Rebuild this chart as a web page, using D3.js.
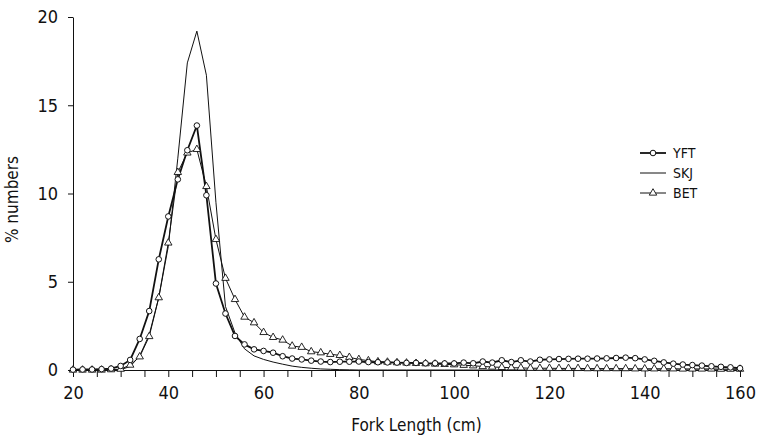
<!DOCTYPE html>
<html>
<head>
<meta charset="utf-8">
<script src="https://cdn.jsdelivr.net/npm/d3@7"></script>
<style>
  body { margin: 0; background: #fff; }
  svg text { font-family: "Liberation Sans Narrow", "DejaVu Sans Condensed", "Roboto Condensed", sans-serif; fill: #111; }
  .axis path, .axis line { stroke: #111; stroke-width: 1; }
</style>
</head>
<body>
<svg id="chart" width="769" height="437"></svg>
<script>
// fork length classes (cm)
const lengths = d3.range(20, 161, 2);

// % numbers per class
const yft = [0.02, 0.03, 0.03, 0.05, 0.08, 0.23, 0.57, 1.76, 3.34, 6.27,
  8.7, 10.8, 12.45, 13.85, 9.9, 4.9, 3.2, 1.93, 1.45, 1.17,
  1.08, 0.98, 0.78, 0.65, 0.6, 0.53, 0.48, 0.45, 0.47, 0.47,
  0.48, 0.45, 0.44, 0.43, 0.42, 0.4, 0.4, 0.38, 0.38, 0.37,
  0.37, 0.42, 0.38, 0.48, 0.42, 0.55, 0.45, 0.55, 0.48, 0.58,
  0.6, 0.62, 0.63, 0.64, 0.64, 0.65, 0.66, 0.68, 0.7, 0.67,
  0.6, 0.52, 0.43, 0.36, 0.31, 0.28, 0.25, 0.21, 0.18, 0.15, 0.1];

const skj = [0, 0, 0, 0, 0, 0.02, 0.2, 0.8, 2.0, 4.1,
  7.0, 12.0, 17.4, 19.2, 16.7, 9.5, 3.6, 2.1, 1.2, 0.8,
  0.6, 0.45, 0.33, 0.22, 0.15, 0.1, 0.06, 0.04, 0.02, 0.01,
  0, 0, 0, 0, 0, 0, 0, 0, 0, 0,
  0, 0, 0, 0, 0, 0, 0, 0, 0, 0,
  0, 0, 0, 0, 0, 0, 0, 0, 0, 0,
  0, 0, 0, 0, 0, 0, 0, 0, 0, 0, 0];

const bet = [0, 0, 0, 0, 0.02, 0.05, 0.28, 0.75, 1.9, 4.1,
  7.2, 11.2, 12.3, 12.5, 10.4, 7.4, 5.2, 4.0, 3.0, 2.68,
  2.13, 1.85, 1.7, 1.36, 1.29, 1.04, 0.98, 0.89, 0.83, 0.72,
  0.6, 0.53, 0.47, 0.45, 0.42, 0.4, 0.38, 0.36, 0.34, 0.32,
  0.3, 0.27, 0.24, 0.2, 0.17, 0.15, 0.13, 0.12, 0.1, 0.1,
  0.1, 0.09, 0.09, 0.09, 0.08, 0.08, 0.08, 0.08, 0.08, 0.07,
  0.07, 0.07, 0.07, 0.07, 0.06, 0.06, 0.06, 0.06, 0.05, 0.05, 0.05];

const xTicks = d3.range(20, 161, 5);
const yTicks = [0, 5, 10, 15, 20];
const seriesNames = ["YFT", "SKJ", "BET"];

let margin = { top: 17, right: 29, bottom: 67, left: 73 },
  width = 769 - margin.left - margin.right,
  height = 437 - margin.top - margin.bottom;

let svg = d3.select("#chart");
let chart = svg.append("g")
  .attr("transform", "translate(" + margin.left + "," + margin.top + ")");

let xScale = d3.scaleLinear().domain([20, 160]).range([0, width]);
let yScale = d3.scaleLinear().domain([0, 20]).range([height, 0]);

// axes
let xAxis = chart.append("g")
  .attr("class", "axis")
  .attr("transform", "translate(0," + height + ")")
  .call(d3.axisBottom(xScale)
    .tickValues(xTicks)
    .tickSize(7)
    .tickSizeOuter(0)
    .tickPadding(9)
    .tickFormat(d => d % 20 === 0 ? d : ""));
xAxis.selectAll("text").style("font-size", "18px");

let yAxis = chart.append("g")
  .attr("class", "axis")
  .call(d3.axisLeft(yScale)
    .tickValues(yTicks)
    .tickSize(5)
    .tickSizeOuter(0)
    .tickPadding(10));
yAxis.selectAll("text").style("font-size", "18px");

// axis titles
chart.append("text")
  .attr("x", width / 2 + 10)
  .attr("y", height + 61)
  .attr("text-anchor", "middle")
  .style("font-size", "17px")
  .text("Fork Length (cm)");

chart.append("text")
  .attr("transform", "translate(" + (-55) + "," + (height / 2 + 6) + ") rotate(-90)")
  .attr("text-anchor", "middle")
  .style("font-size", "17px")
  .text("% numbers");

// lines
let line = d3.line()
  .x((d, i) => xScale(lengths[i]))
  .y(d => yScale(d));

chart.append("path").datum(skj)
  .attr("fill", "none").attr("stroke", "#111").attr("stroke-width", 1)
  .attr("d", line);

chart.append("path").datum(bet)
  .attr("fill", "none").attr("stroke", "#111").attr("stroke-width", 1)
  .attr("d", line);

chart.append("path").datum(yft)
  .attr("fill", "none").attr("stroke", "#111").attr("stroke-width", 1.8)
  .attr("d", line);

let tri = d3.symbol().type(d3.symbolTriangle).size(24);

chart.append("g").selectAll("path")
  .data(bet)
  .enter()
  .append("path")
  .attr("d", tri)
  .attr("transform", (d, i) => "translate(" + xScale(lengths[i]) + "," + yScale(d) + ")")
  .attr("fill", "#fff").attr("stroke", "#111").attr("stroke-width", 0.9);

chart.append("g").selectAll("circle")
  .data(yft)
  .enter()
  .append("circle")
  .attr("cx", (d, i) => xScale(lengths[i]))
  .attr("cy", d => yScale(d))
  .attr("r", 2.8)
  .attr("fill", "#fff").attr("stroke", "#111").attr("stroke-width", 1);

// legend
let legend = chart.append("g")
  .attr("transform", "translate(" + (640 - margin.left) + "," + (153 - margin.top) + ")");

seriesNames.forEach(function (name, i) {
  let g = legend.append("g").attr("transform", "translate(0," + i * 20 + ")");
  g.append("line")
    .attr("x1", 0).attr("x2", 26).attr("y1", 0).attr("y2", 0)
    .attr("stroke", "#111").attr("stroke-width", name === "YFT" ? 1.8 : 1);
  if (name === "YFT") {
    g.append("circle").attr("cx", 13).attr("cy", 0).attr("r", 2.8)
      .attr("fill", "#fff").attr("stroke", "#111");
  } else if (name === "BET") {
    g.append("path").attr("d", tri).attr("transform", "translate(13,0)")
      .attr("fill", "#fff").attr("stroke", "#111").attr("stroke-width", 0.9);
  }
  g.append("text")
    .attr("x", 33).attr("y", 5)
    .style("font-size", "14px")
    .text(name);
});
</script>
</body>
</html>
